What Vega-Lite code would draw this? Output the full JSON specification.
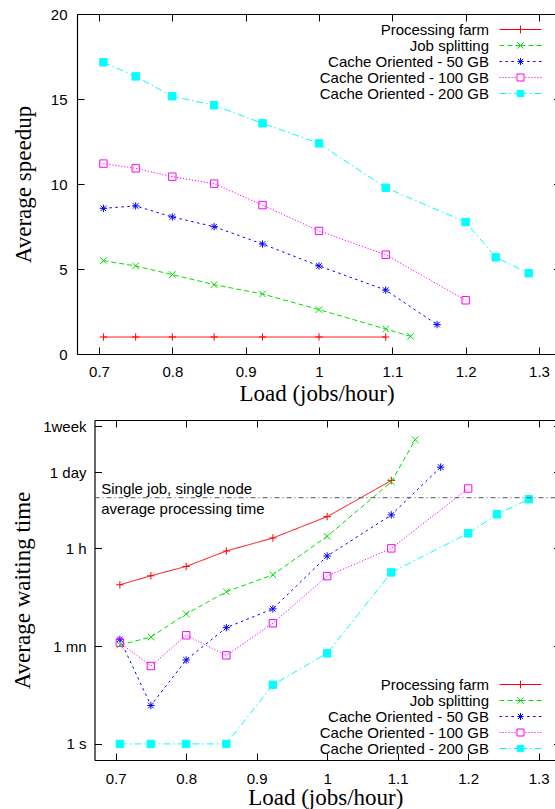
{
  "$schema": "https://vega.github.io/schema/vega-lite/v6.json",
  "background": "white",
  "padding": {"left": 11, "top": 7, "right": 0, "bottom": 0},
  "spacing": 14,
  "datasets": {
    "speedup": [
      {"load": 0.706, "series": "Processing farm", "speedup": 1},
      {"load": 0.75, "series": "Processing farm", "speedup": 1},
      {"load": 0.8, "series": "Processing farm", "speedup": 1},
      {"load": 0.857, "series": "Processing farm", "speedup": 1},
      {"load": 0.923, "series": "Processing farm", "speedup": 1},
      {"load": 1.0, "series": "Processing farm", "speedup": 1},
      {"load": 1.091, "series": "Processing farm", "speedup": 1},
      {"load": 0.706, "series": "Job splitting", "speedup": 5.49},
      {"load": 0.75, "series": "Job splitting", "speedup": 5.18},
      {"load": 0.8, "series": "Job splitting", "speedup": 4.67},
      {"load": 0.857, "series": "Job splitting", "speedup": 4.08},
      {"load": 0.923, "series": "Job splitting", "speedup": 3.53},
      {"load": 1.0, "series": "Job splitting", "speedup": 2.61},
      {"load": 1.091, "series": "Job splitting", "speedup": 1.47},
      {"load": 1.125, "series": "Job splitting", "speedup": 1.04},
      {"load": 0.706, "series": "Cache Oriented - 50 GB", "speedup": 8.57},
      {"load": 0.75, "series": "Cache Oriented - 50 GB", "speedup": 8.71},
      {"load": 0.8, "series": "Cache Oriented - 50 GB", "speedup": 8.06},
      {"load": 0.857, "series": "Cache Oriented - 50 GB", "speedup": 7.49},
      {"load": 0.923, "series": "Cache Oriented - 50 GB", "speedup": 6.47},
      {"load": 1.0, "series": "Cache Oriented - 50 GB", "speedup": 5.18},
      {"load": 1.091, "series": "Cache Oriented - 50 GB", "speedup": 3.76},
      {"load": 1.161, "series": "Cache Oriented - 50 GB", "speedup": 1.73},
      {"load": 0.706, "series": "Cache Oriented - 100 GB", "speedup": 11.2},
      {"load": 0.75, "series": "Cache Oriented - 100 GB", "speedup": 10.92},
      {"load": 0.8, "series": "Cache Oriented - 100 GB", "speedup": 10.43},
      {"load": 0.857, "series": "Cache Oriented - 100 GB", "speedup": 10.02},
      {"load": 0.923, "series": "Cache Oriented - 100 GB", "speedup": 8.76},
      {"load": 1.0, "series": "Cache Oriented - 100 GB", "speedup": 7.24},
      {"load": 1.091, "series": "Cache Oriented - 100 GB", "speedup": 5.84},
      {"load": 1.2, "series": "Cache Oriented - 100 GB", "speedup": 3.16},
      {"load": 0.706, "series": "Cache Oriented - 200 GB", "speedup": 17.16},
      {"load": 0.75, "series": "Cache Oriented - 200 GB", "speedup": 16.33},
      {"load": 0.8, "series": "Cache Oriented - 200 GB", "speedup": 15.16},
      {"load": 0.857, "series": "Cache Oriented - 200 GB", "speedup": 14.63},
      {"load": 0.923, "series": "Cache Oriented - 200 GB", "speedup": 13.57},
      {"load": 1.0, "series": "Cache Oriented - 200 GB", "speedup": 12.39},
      {"load": 1.091, "series": "Cache Oriented - 200 GB", "speedup": 9.78},
      {"load": 1.2, "series": "Cache Oriented - 200 GB", "speedup": 7.76},
      {"load": 1.241, "series": "Cache Oriented - 200 GB", "speedup": 5.69},
      {"load": 1.286, "series": "Cache Oriented - 200 GB", "speedup": 4.75}
    ],
    "wait": [
      {"load": 0.706, "series": "Processing farm", "wait": 783},
      {"load": 0.75, "series": "Processing farm", "wait": 1142},
      {"load": 0.8, "series": "Processing farm", "wait": 1690},
      {"load": 0.857, "series": "Processing farm", "wait": 3220},
      {"load": 0.923, "series": "Processing farm", "wait": 5556},
      {"load": 1.0, "series": "Processing farm", "wait": 13600},
      {"load": 1.091, "series": "Processing farm", "wait": 61700},
      {"load": 0.706, "series": "Job splitting", "wait": 63},
      {"load": 0.75, "series": "Job splitting", "wait": 88},
      {"load": 0.8, "series": "Job splitting", "wait": 231},
      {"load": 0.857, "series": "Job splitting", "wait": 584},
      {"load": 0.923, "series": "Job splitting", "wait": 1191},
      {"load": 1.0, "series": "Job splitting", "wait": 5957},
      {"load": 1.091, "series": "Job splitting", "wait": 58300},
      {"load": 1.125, "series": "Job splitting", "wait": 340000},
      {"load": 0.706, "series": "Cache Oriented - 50 GB", "wait": 80},
      {"load": 0.75, "series": "Cache Oriented - 50 GB", "wait": 5.0},
      {"load": 0.8, "series": "Cache Oriented - 50 GB", "wait": 33.6},
      {"load": 0.857, "series": "Cache Oriented - 50 GB", "wait": 130},
      {"load": 0.923, "series": "Cache Oriented - 50 GB", "wait": 286},
      {"load": 1.0, "series": "Cache Oriented - 50 GB", "wait": 2610},
      {"load": 1.091, "series": "Cache Oriented - 50 GB", "wait": 14600},
      {"load": 1.161, "series": "Cache Oriented - 50 GB", "wait": 108000},
      {"load": 0.706, "series": "Cache Oriented - 100 GB", "wait": 69.5},
      {"load": 0.75, "series": "Cache Oriented - 100 GB", "wait": 26.1},
      {"load": 0.8, "series": "Cache Oriented - 100 GB", "wait": 94.6},
      {"load": 0.857, "series": "Cache Oriented - 100 GB", "wait": 40.8},
      {"load": 0.923, "series": "Cache Oriented - 100 GB", "wait": 156.5},
      {"load": 1.0, "series": "Cache Oriented - 100 GB", "wait": 1127},
      {"load": 1.091, "series": "Cache Oriented - 100 GB", "wait": 3600},
      {"load": 1.2, "series": "Cache Oriented - 100 GB", "wait": 44100},
      {"load": 0.706, "series": "Cache Oriented - 200 GB", "wait": 1},
      {"load": 0.75, "series": "Cache Oriented - 200 GB", "wait": 1},
      {"load": 0.8, "series": "Cache Oriented - 200 GB", "wait": 1},
      {"load": 0.857, "series": "Cache Oriented - 200 GB", "wait": 1},
      {"load": 0.923, "series": "Cache Oriented - 200 GB", "wait": 11.9},
      {"load": 1.0, "series": "Cache Oriented - 200 GB", "wait": 44.4},
      {"load": 1.091, "series": "Cache Oriented - 200 GB", "wait": 1315},
      {"load": 1.2, "series": "Cache Oriented - 200 GB", "wait": 6760},
      {"load": 1.241, "series": "Cache Oriented - 200 GB", "wait": 15000},
      {"load": 1.286, "series": "Cache Oriented - 200 GB", "wait": 28200}
    ],
    "ref": [{"t": 30000}]
  },
  "config": {
    "view": {"stroke": null},
    "axis": {
      "grid": false,
      "domainColor": "#000000",
      "domainWidth": 1.2,
      "tickColor": "#000000",
      "tickWidth": 1,
      "tickSize": -7,
      "labelFont": "Liberation Sans",
      "labelFontSize": 15,
      "labelColor": "#000000",
      "titleFont": "Liberation Serif",
      "titleFontSize": 23,
      "titleFontWeight": "normal",
      "titleColor": "#000000"
    },
    "legend": {
      "title": null,
      "labelFont": "Liberation Sans",
      "labelFontSize": 15,
      "labelColor": "#000000",
      "labelLimit": 300,
      "padding": 0
    }
  },
  "resolve": {"scale": {"color": "independent"}},
  "vconcat": [
    {
      "width": 479,
      "height": 340,
      "data": {"name": "speedup"},
      "layer": [
        {
          "mark": {"type": "line", "strokeWidth": 1},
          "encoding": {
            "x": {"field": "load", "type": "quantitative",
              "scale": {"domain": [0.67, 1.3232], "nice": false, "zero": false},
              "axis": {"orient": "bottom", "values": [0.7, 0.8, 0.9, 1.0, 1.1, 1.2, 1.3], "format": "~g", "title": "Load (jobs/hour)", "labelPadding": 17, "titlePadding": 3}},
            "y": {"field": "speedup", "type": "quantitative",
              "scale": {"domain": [0, 20], "nice": false, "zero": false},
              "axis": {"orient": "left", "values": [0, 5, 10, 15, 20], "title": "Average speedup", "labelPadding": 17, "titlePadding": 15}},
            "color": {"field": "series", "type": "nominal",
              "scale": {"domain": ["Processing farm", "Job splitting", "Cache Oriented - 50 GB", "Cache Oriented - 100 GB", "Cache Oriented - 200 GB"], "range": ["#ff0000", "#00e000", "#0000ff", "#ff00ff", "#00ffff"]},
              "legend": {
                "orient": "none", "legendX": 436, "legendY": 8,
                "labelAlign": "right", "labelOffset": -39, "symbolSize": 49, "symbolStrokeWidth": 1, "rowPadding": 0,
                "encode": {"symbols": {"update": {
                  "shape": {"signal": "datum.value === 'Processing farm' ? 'M-6,0H6M0,-1.1V1.1' : datum.value === 'Job splitting' ? 'M-6,0H-4.6M-3.7,0H-2.3M-1.4,0H1.4M2.3,0H3.7M4.6,0H6M-0.9,-0.9L0.9,0.9M-0.9,0.9L0.9,-0.9' : datum.value === 'Cache Oriented - 50 GB' ? 'M-6,0H-5.3M-4.3,0H-3.6M-2.6,0H-1.9M-0.9,0H0.9M1.9,0H2.6M3.6,0H4.3M5.3,0H6M0,-1V1M-0.75,-0.75L0.75,0.75M-0.75,0.75L0.75,-0.75' : datum.value === 'Cache Oriented - 100 GB' ? 'M-6,0H-5.66M-5.14,0H-4.8M-4.29,0H-3.95M-3.43,0H-3.09M-2.57,0H-2.23M-1.71,0H-1.37M1.37,0H1.71M2.23,0H2.57M3.09,0H3.43M3.95,0H4.29M4.8,0H5.14M5.66,0H6M-1,-1H1V1H-1Z' : 'M-6,0H-4M-3.14,0H-2.71M-1.85,0H-1M1,0H1.85M2.71,0H3.14M4,0H6M-0.9,-0.9H0.9V0.9H-0.9Z'"},
                  "fill": {"signal": "datum.value === 'Cache Oriented - 200 GB' ? '#00ffff' : 'transparent'"},
                  "strokeWidth": {"value": 1},
                  "opacity": {"value": 1}
                }}}
              }},
            "strokeDash": {"condition": [
              {"test": "datum.series === 'Job splitting'", "value": [5, 3]},
              {"test": "datum.series === 'Cache Oriented - 50 GB'", "value": [2.5, 3.5]},
              {"test": "datum.series === 'Cache Oriented - 100 GB'", "value": [1.2, 1.8]},
              {"test": "datum.series === 'Cache Oriented - 200 GB'", "value": [7, 3, 1.5, 3]}],
              "value": [1, 0]}
          }
        },
        {
          "mark": {"type": "point", "filled": false, "size": 55, "strokeWidth": 1, "opacity": 1},
          "encoding": {
            "x": {"field": "load", "type": "quantitative",
              "axis": {"orient": "top", "values": [0.7, 0.8, 0.9, 1.0, 1.1, 1.2, 1.3], "labels": false, "title": null}},
            "y": {"field": "speedup", "type": "quantitative",
              "axis": {"orient": "right", "values": [0, 5, 10, 15, 20], "labels": false, "title": null, "domain": false, "tickSize": -2.5}},
            "color": {"field": "series", "type": "nominal", "legend": null},
            "shape": {"condition": [
              {"test": "datum.series === 'Processing farm'", "value": "M-1,0H1M0,-1V1"},
              {"test": "datum.series === 'Job splitting'", "value": "M-0.9,-0.9L0.9,0.9M-0.9,0.9L0.9,-0.9"},
              {"test": "datum.series === 'Cache Oriented - 50 GB'", "value": "M-1,0H1M0,-1V1M-0.75,-0.75L0.75,0.75M-0.75,0.75L0.75,-0.75"}],
              "value": "square"},
            "fill": {"condition": {"test": "datum.series === 'Cache Oriented - 200 GB'", "value": "#00ffff"}, "value": "transparent"}
          }
        }
      ]
    },
    {
      "width": 479,
      "height": 340,
      "layer": [
        {
          "data": {"name": "wait"},
          "mark": {"type": "line", "strokeWidth": 1},
          "encoding": {
            "x": {"field": "load", "type": "quantitative",
              "scale": {"domain": [0.67, 1.3246], "range": [17.5, 479], "nice": false, "zero": false},
              "axis": {"orient": "bottom", "values": [0.7, 0.8, 0.9, 1.0, 1.1, 1.2, 1.3], "format": "~g", "title": "Load (jobs/hour)", "labelPadding": 18, "titlePadding": 0}},
            "y": {"field": "wait", "type": "quantitative",
              "scale": {"type": "log", "domain": [0.51, 777600], "nice": false},
              "axis": {"orient": "left", "offset": -17.5, "values": [1, 60, 3600, 86400, 604800],
                "labelExpr": "datum.value == 1 ? '1 s' : datum.value == 60 ? '1 mn' : datum.value == 3600 ? '1 h' : datum.value == 86400 ? '1 day' : '1week'",
                "title": "Average waiting time", "labelPadding": 15.5, "titlePadding": 8}},
            "color": {"field": "series", "type": "nominal",
              "scale": {"domain": ["Processing farm", "Job splitting", "Cache Oriented - 50 GB", "Cache Oriented - 100 GB", "Cache Oriented - 200 GB"], "range": ["#ff0000", "#00e000", "#0000ff", "#ff00ff", "#00ffff"]},
              "legend": {
                "orient": "none", "legendX": 436, "legendY": 257,
                "labelAlign": "right", "labelOffset": -39, "symbolSize": 49, "symbolStrokeWidth": 1, "rowPadding": 0,
                "encode": {"symbols": {"update": {
                  "shape": {"signal": "datum.value === 'Processing farm' ? 'M-6,0H6M0,-1.1V1.1' : datum.value === 'Job splitting' ? 'M-6,0H-4.6M-3.7,0H-2.3M-1.4,0H1.4M2.3,0H3.7M4.6,0H6M-0.9,-0.9L0.9,0.9M-0.9,0.9L0.9,-0.9' : datum.value === 'Cache Oriented - 50 GB' ? 'M-6,0H-5.3M-4.3,0H-3.6M-2.6,0H-1.9M-0.9,0H0.9M1.9,0H2.6M3.6,0H4.3M5.3,0H6M0,-1V1M-0.75,-0.75L0.75,0.75M-0.75,0.75L0.75,-0.75' : datum.value === 'Cache Oriented - 100 GB' ? 'M-6,0H-5.66M-5.14,0H-4.8M-4.29,0H-3.95M-3.43,0H-3.09M-2.57,0H-2.23M-1.71,0H-1.37M1.37,0H1.71M2.23,0H2.57M3.09,0H3.43M3.95,0H4.29M4.8,0H5.14M5.66,0H6M-1,-1H1V1H-1Z' : 'M-6,0H-4M-3.14,0H-2.71M-1.85,0H-1M1,0H1.85M2.71,0H3.14M4,0H6M-0.9,-0.9H0.9V0.9H-0.9Z'"},
                  "fill": {"signal": "datum.value === 'Cache Oriented - 200 GB' ? '#00ffff' : 'transparent'"},
                  "strokeWidth": {"value": 1},
                  "opacity": {"value": 1}
                }}}
              }},
            "strokeDash": {"condition": [
              {"test": "datum.series === 'Job splitting'", "value": [5, 3]},
              {"test": "datum.series === 'Cache Oriented - 50 GB'", "value": [2.5, 3.5]},
              {"test": "datum.series === 'Cache Oriented - 100 GB'", "value": [1.2, 1.8]},
              {"test": "datum.series === 'Cache Oriented - 200 GB'", "value": [7, 3, 1.5, 3]}],
              "value": [1, 0]}
          }
        },
        {
          "data": {"name": "wait"},
          "mark": {"type": "point", "filled": false, "size": 55, "strokeWidth": 1, "opacity": 1},
          "encoding": {
            "x": {"field": "load", "type": "quantitative",
              "axis": {"orient": "top", "values": [0.7, 0.8, 0.9, 1.0, 1.1, 1.2, 1.3], "labels": false, "title": null}},
            "y": {"field": "wait", "type": "quantitative",
              "axis": {"orient": "right", "values": [1, 60, 3600, 86400, 604800], "labels": false, "title": null, "domain": false, "tickSize": -2.5}},
            "color": {"field": "series", "type": "nominal", "legend": null},
            "shape": {"condition": [
              {"test": "datum.series === 'Processing farm'", "value": "M-1,0H1M0,-1V1"},
              {"test": "datum.series === 'Job splitting'", "value": "M-0.9,-0.9L0.9,0.9M-0.9,0.9L0.9,-0.9"},
              {"test": "datum.series === 'Cache Oriented - 50 GB'", "value": "M-1,0H1M0,-1V1M-0.75,-0.75L0.75,0.75M-0.75,0.75L0.75,-0.75"}],
              "value": "square"},
            "fill": {"condition": {"test": "datum.series === 'Cache Oriented - 200 GB'", "value": "#00ffff"}, "value": "transparent"}
          }
        },
        {
          "data": {"name": "ref"},
          "mark": {"type": "rule", "color": "#555555", "strokeWidth": 1, "strokeDash": [5, 3, 1, 3]},
          "encoding": {
            "x": {"datum": 0.67, "type": "quantitative", "axis": null},
            "x2": {"datum": 1.3246},
            "y": {"field": "t", "type": "quantitative", "axis": null}
          }
        },
        {
          "data": {"name": "ref"},
          "mark": {"type": "text", "align": "left", "baseline": "middle", "font": "Liberation Sans", "fontSize": 15, "lineHeight": 20, "dy": -8.5, "color": "#000000",
            "text": ["Single job, single node", "average processing time"]},
          "encoding": {
            "x": {"datum": 0.6795, "type": "quantitative", "axis": null},
            "y": {"field": "t", "type": "quantitative", "axis": null}
          }
        }
      ]
    }
  ]
}
